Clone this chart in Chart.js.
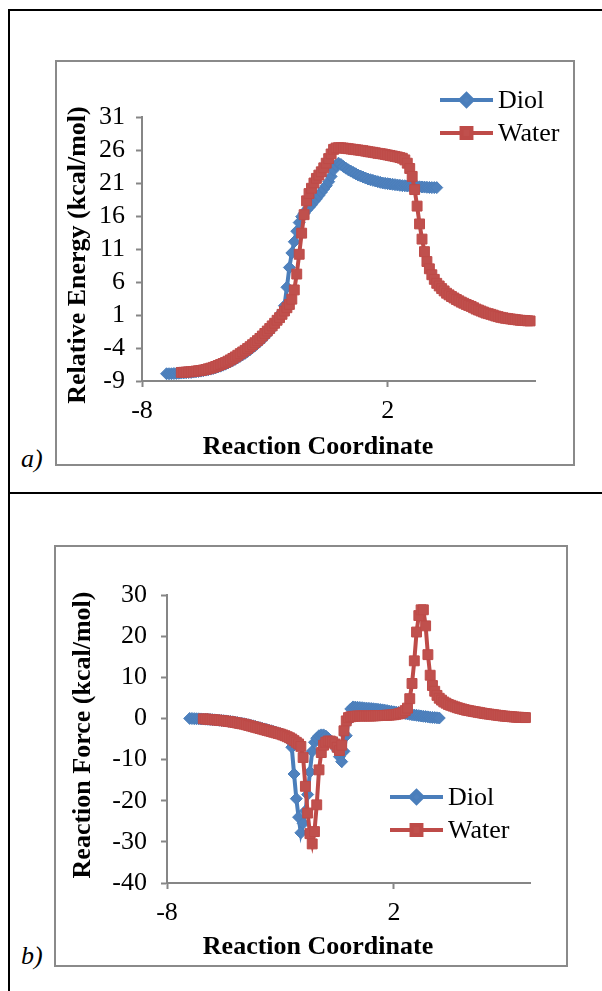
<!DOCTYPE html>
<html>
<head>
<meta charset="utf-8">
<script src="https://cdn.jsdelivr.net/npm/chart.js@4"></script>
<style>
  html, body { margin: 0; padding: 0; background: #fff; width: 602px; height: 991px; overflow: hidden; }
  .rule { position: absolute; background: #000; }
  .box { position: absolute; border: 2px solid #8a8a8a; box-sizing: border-box; pointer-events: none; }
  canvas { position: absolute; }
  .tag { position: absolute; font: italic 26px "Liberation Serif", serif; line-height: 26px; color: #000; }
</style>
</head>
<body>
<div class="rule" style="left:8px;top:9px;width:2px;height:982px"></div>
<div class="rule" style="left:8px;top:9px;width:594px;height:2px"></div>
<div class="rule" style="left:8px;top:492px;width:594px;height:2px"></div>

<canvas id="energy" width="520" height="406" style="left:55px;top:60px"></canvas>
<div class="box" style="left:55px;top:60px;width:520px;height:406px"></div>
<div class="tag" style="left:21px;top:446px">a)</div>

<canvas id="force" width="514" height="422" style="left:54px;top:545px"></canvas>
<div class="box" style="left:54px;top:545px;width:514px;height:422px"></div>
<div class="tag" style="left:21px;top:943px">b)</div>

<script>
// Reaction coordinate of each IRC point
const diolCoord = [
  -7.0,-6.9,-6.8,-6.7,-6.6,-6.5,-6.4,-6.3,-6.2,-6.1,-6.0,-5.9,-5.8,-5.7,-5.6,-5.5,-5.4,-5.3,-5.2,-5.1,
  -5.0,-4.9,-4.8,-4.7,-4.6,-4.5,-4.4,-4.3,-4.2,-4.1,-4.0,-3.9,-3.8,-3.7,-3.6,-3.5,-3.4,-3.3,-3.2,-3.1,
  -3.0,-2.9,-2.8,-2.7,-2.6,-2.5,-2.4,-2.3,-2.2,-2.1,-2.0,-1.9,-1.8,-1.7,-1.6,-1.5,-1.4,-1.3,-1.2,-1.1,
  -1.0,-0.9,-0.8,-0.7,-0.6,-0.5,-0.4,-0.3,-0.2,-0.1,0.0,0.1,0.2,0.3,0.4,0.5,0.6,0.7,0.8,0.9,
  1.0,1.1,1.2,1.3,1.4,1.5,1.6,1.7,1.8,1.9,2.0,2.1,2.2,2.3,2.4,2.5,2.6,2.7,2.8,2.9,
  3.0,3.1,3.2,3.3,3.4,3.5,3.6,3.7,3.8,3.9,4.0];
const waterCoord = [
  -6.4,-6.3,-6.2,-6.1,-6.0,-5.9,-5.8,-5.7,-5.6,-5.5,-5.4,-5.3,-5.2,-5.1,-5.0,-4.9,-4.8,-4.7,-4.6,-4.5,
  -4.4,-4.3,-4.2,-4.1,-4.0,-3.9,-3.8,-3.7,-3.6,-3.5,-3.4,-3.3,-3.2,-3.1,-3.0,-2.9,-2.8,-2.7,-2.6,-2.5,
  -2.4,-2.3,-2.2,-2.1,-2.0,-1.9,-1.8,-1.7,-1.6,-1.5,-1.4,-1.3,-1.2,-1.1,-1.0,-0.9,-0.8,-0.7,-0.6,-0.5,
  -0.4,-0.3,-0.2,-0.1,0.0,0.1,0.2,0.3,0.4,0.5,0.6,0.7,0.8,0.9,1.0,1.1,1.2,1.3,1.4,1.5,
  1.6,1.7,1.8,1.9,2.0,2.1,2.2,2.3,2.4,2.5,2.6,2.7,2.8,2.9,3.0,3.1,3.2,3.3,3.4,3.5,
  3.6,3.7,3.8,3.9,4.0,4.1,4.2,4.3,4.4,4.5,4.6,4.7,4.8,4.9,5.0,5.1,5.2,5.3,5.4,5.5,
  5.6,5.7,5.8,5.9,6.0,6.1,6.2,6.3,6.4,6.5,6.6,6.7,6.8,6.9,7.0,7.1,7.2,7.3,7.4,7.5,
  7.6,7.7,7.8];

// Relative energy (kcal/mol)
const diolEnergy = [
  -7.9,-7.9,-7.9,-7.87,-7.85,-7.82,-7.8,-7.77,-7.75,-7.72,-7.7,-7.65,-7.6,-7.55,-7.5,-7.43,-7.35,-7.28,-7.2,-7.1,
  -7.0,-6.88,-6.75,-6.6,-6.45,-6.28,-6.1,-5.9,-5.7,-5.48,-5.25,-5.03,-4.8,-4.53,-4.25,-3.95,-3.65,-3.33,-3.0,-2.63,
  -2.25,-1.85,-1.4,-0.9,-0.4,0.1,0.7,1.4,2.4,5.2,8.2,10.4,12.1,13.7,15.0,15.9,16.4,16.9,17.3,17.7,
  18.2,18.6,19.1,19.6,20.1,20.6,21.2,22.0,23.0,23.7,24.0,23.8,23.5,23.25,23.0,22.8,22.6,22.4,22.2,22.05,
  21.9,21.75,21.6,21.5,21.4,21.3,21.2,21.1,21.0,20.95,20.9,20.85,20.8,20.75,20.7,20.65,20.6,20.58,20.55,20.52,
  20.5,20.48,20.45,20.42,20.4,20.38,20.35,20.33,20.3,20.3,20.3];
const waterEnergy = [
  -7.7,-7.68,-7.65,-7.62,-7.6,-7.55,-7.5,-7.45,-7.4,-7.33,-7.25,-7.15,-7.05,-6.93,-6.8,-6.65,-6.5,-6.35,-6.2,-6.0,
  -5.8,-5.58,-5.35,-5.1,-4.85,-4.6,-4.35,-4.08,-3.8,-3.5,-3.2,-2.88,-2.55,-2.18,-1.8,-1.43,-1.05,-0.65,-0.25,0.2,
  0.6,1.1,1.6,2.1,2.6,3.4,4.8,7.2,10.2,13.4,16.2,18.3,19.4,20.2,21.0,21.7,22.2,22.7,23.3,24.0,
  24.7,25.4,26.1,26.3,26.35,26.33,26.3,26.25,26.2,26.15,26.1,26.05,26.0,25.95,25.9,25.83,25.75,25.7,25.65,25.58,
  25.5,25.45,25.4,25.33,25.25,25.18,25.1,25.03,24.95,24.85,24.75,24.5,24.0,23.2,22.0,20.0,17.5,14.8,12.5,10.6,
  9.1,8.0,7.1,6.4,5.8,5.4,5.0,4.65,4.3,4.05,3.8,3.58,3.35,3.15,2.95,2.78,2.6,2.45,2.3,2.1,
  1.9,1.75,1.6,1.45,1.3,1.2,1.1,0.98,0.85,0.75,0.65,0.58,0.5,0.45,0.4,0.35,0.3,0.25,0.2,0.18,
  0.15,0.12,0.1];

// Reaction force (kcal/mol)
const diolForce = [
  0.0,-0.02,-0.05,-0.08,-0.1,-0.12,-0.15,-0.18,-0.2,-0.25,-0.3,-0.35,-0.4,-0.45,-0.5,-0.55,-0.6,-0.68,-0.75,-0.82,
  -0.9,-1.0,-1.1,-1.2,-1.3,-1.42,-1.55,-1.68,-1.8,-1.95,-2.1,-2.25,-2.4,-2.55,-2.7,-2.85,-3.0,-3.18,-3.35,-3.52,
  -3.7,-3.9,-4.2,-4.6,-5.3,-7.0,-13.5,-19.5,-24.0,-27.8,-25.5,-22.5,-18.5,-13.0,-8.0,-5.8,-4.8,-4.2,-4.0,-4.0,
  -4.3,-4.8,-5.3,-5.9,-6.6,-7.6,-9.3,-10.5,-8.0,-4.2,-0.5,2.3,2.8,2.75,2.7,2.65,2.6,2.55,2.5,2.45,
  2.4,2.35,2.3,2.22,2.15,2.08,2.0,1.9,1.8,1.7,1.6,1.52,1.45,1.38,1.3,1.2,1.1,1.0,0.9,0.82,
  0.75,0.68,0.6,0.52,0.45,0.38,0.3,0.25,0.2,0.15,0.1];
const waterForce = [
  -0.1,-0.15,-0.2,-0.25,-0.3,-0.35,-0.4,-0.45,-0.5,-0.58,-0.65,-0.72,-0.8,-0.9,-1.0,-1.1,-1.2,-1.3,-1.4,-1.55,
  -1.7,-1.85,-2.0,-2.15,-2.3,-2.45,-2.6,-2.75,-2.9,-3.05,-3.2,-3.35,-3.5,-3.65,-3.8,-4.0,-4.2,-4.45,-4.7,-5.0,
  -5.4,-5.8,-6.2,-6.8,-9.5,-16.5,-23.0,-28.0,-30.5,-27.5,-21.0,-12.5,-8.3,-6.5,-5.8,-5.5,-5.5,-5.7,-6.2,-7.0,
  -7.8,-6.5,-3.0,-0.6,0.2,0.4,0.5,0.55,0.6,0.6,0.6,0.6,0.6,0.6,0.6,0.62,0.65,0.68,0.7,0.72,
  0.75,0.78,0.8,0.85,0.9,1.0,1.1,1.25,1.5,1.9,2.5,4.8,8.5,14.0,21.0,25.0,26.4,26.4,22.5,15.5,
  10.5,8.0,6.6,5.6,4.9,4.45,4.0,3.7,3.4,3.2,3.0,2.8,2.6,2.45,2.3,2.15,2.0,1.9,1.8,1.7,
  1.6,1.5,1.4,1.3,1.2,1.12,1.05,0.98,0.9,0.82,0.75,0.68,0.6,0.55,0.5,0.45,0.4,0.35,0.3,0.28,
  0.25,0.22,0.2];

// Axis tick values
const coordTicks = [-8, 2];
const energyTicks = [-9, -4, 1, 6, 11, 16, 21, 26, 31];
const forceTicks = [-40, -30, -20, -10, 0, 10, 20, 30];

const seriesNames = ['Diol', 'Water'];
const AXIS = '#868686';
const SERIF = '"Liberation Serif", "Times New Roman", serif';

Chart.defaults.font.family = SERIF;
Chart.defaults.color = '#000';

function pairs(xs, ys) { return xs.map((x, i) => ({ x: x, y: ys[i] })); }

// Axis titles and an Excel-style key: line sample with its marker, then the series name
const captionsAndKey = {
  id: 'captionsAndKey',
  afterDraw(chart, args, o) {
    const ctx = chart.ctx;
    ctx.save();
    ctx.fillStyle = '#000';
    ctx.font = 'bold 26px ' + SERIF;
    ctx.textAlign = 'center';
    ctx.textBaseline = 'middle';
    ctx.fillText(o.xTitle, o.xTitleAt[0], o.xTitleAt[1]);
    ctx.save();
    ctx.translate(o.yTitleAt[0], o.yTitleAt[1]);
    ctx.rotate(-Math.PI / 2);
    ctx.fillText(o.yTitle, 0, 0);
    ctx.restore();

    chart.data.datasets.forEach((ds, i) => {
      const y = o.keyY[i];
      const x0 = o.keyX[0], x1 = o.keyX[1];
      ctx.strokeStyle = ds.borderColor;
      ctx.lineWidth = ds.borderWidth;
      ctx.beginPath();
      ctx.moveTo(x0, y);
      ctx.lineTo(x1, y);
      ctx.stroke();
      ctx.fillStyle = ds.pointBackgroundColor;
      ctx.strokeStyle = ds.pointBorderColor;
      Chart.helpers.drawPoint(ctx, {
        pointStyle: ds.pointStyle, radius: ds.pointRadius, rotation: 0, borderWidth: ds.pointBorderWidth
      }, (x0 + x1) / 2, y);
      ctx.fillStyle = '#000';
      ctx.font = '26px ' + SERIF;
      ctx.textAlign = 'left';
      ctx.textBaseline = 'middle';
      ctx.fillText(ds.label, x1 + 5, y + 1);
    });
    ctx.restore();
  }
};

function datasets(diolVals, waterVals) {
  return [
    {
      label: seriesNames[0], data: pairs(diolCoord, diolVals), order: 1,
      borderColor: '#4A7EBB', borderWidth: 4, pointStyle: 'rectRot', pointRadius: 6,
      pointBackgroundColor: '#4F81BD', pointBorderColor: '#4A7EBB', pointBorderWidth: 1,
      tension: 0, clip: false
    },
    {
      label: seriesNames[1], data: pairs(waterCoord, waterVals), order: 0,
      borderColor: '#BE4B48', borderWidth: 4, pointStyle: 'rect', pointRadius: 7,
      pointBackgroundColor: '#C0504D', pointBorderColor: '#BE4B48', pointBorderWidth: 1,
      tension: 0, clip: false
    }
  ];
}

function axis(min, max, tickVals, fitKey, fitSize, pad) {
  return {
    type: 'linear', min: min, max: max,
    afterBuildTicks: s => { s.ticks = tickVals.map(v => ({ value: v })); },
    afterFit: s => { s[fitKey] = fitSize; },
    grid: { display: true, drawOnChartArea: false, drawTicks: true, tickLength: 6, tickWidth: 2, tickColor: AXIS },
    border: { display: true, color: AXIS, width: 2 },
    ticks: { color: '#000', font: { family: SERIF, size: 26 }, padding: pad, autoSkip: false, maxRotation: 0,
             callback: v => String(v) }
  };
}

function panel(id, spec) {
  new Chart(document.getElementById(id), {
    type: 'line',
    data: { datasets: datasets(spec.diol, spec.water) },
    options: {
      responsive: false, maintainAspectRatio: false, animation: false, events: [],
      layout: { padding: { left: 0, top: spec.top, right: spec.right, bottom: 0 } },
      scales: {
        x: axis(-8, 8, coordTicks, 'height', spec.xHeight, 9),
        y: axis(spec.yMin, spec.yMax, spec.yTicks, 'width', spec.yWidth, spec.yPad)
      },
      plugins: {
        legend: { display: false }, tooltip: { enabled: false },
        captionsAndKey: {
          xTitle: 'Reaction Coordinate', xTitleAt: spec.xTitleAt,
          yTitle: spec.yTitle, yTitleAt: spec.yTitleAt,
          keyX: spec.keyX, keyY: spec.keyY
        }
      }
    },
    plugins: [captionsAndKey]
  });
}

panel('energy', {
  diol: diolEnergy, water: waterEnergy,
  yMin: -9, yMax: 31, yTicks: energyTicks,
  top: 57, right: 40, xHeight: 85, yWidth: 87, yPad: 11,
  yTitle: 'Relative Energy (kcal/mol)', yTitleAt: [23, 195],
  xTitleAt: [263, 387],
  keyX: [385, 438], keyY: [40, 73]
});

panel('force', {
  diol: diolForce, water: waterForce,
  yMin: -40, yMax: 30, yTicks: forceTicks,
  top: 50, right: 38, xHeight: 84, yWidth: 113, yPad: 14,
  yTitle: 'Reaction Force (kcal/mol)', yTitleAt: [29, 190],
  xTitleAt: [264, 402],
  keyX: [336, 389], keyY: [252, 285]
});
</script>
</body>
</html>
